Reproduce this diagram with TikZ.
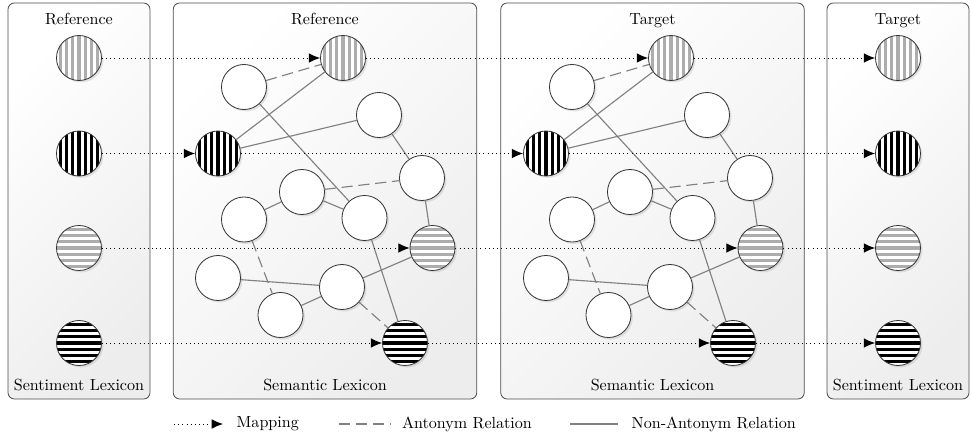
\documentclass[tikz,border=0pt]{standalone}
\usepackage{tikz}
\usetikzlibrary{positioning, arrows.meta, shadows}

\begin{document}
\begin{tikzpicture}[
    x=0.2186cm, y=0.2186cm,
    panel/.style={draw=black!70, line width=0.5pt, rounded corners=4pt, top color=white, bottom color=black!7, shading angle=45, inner sep=0pt, minimum height=8.657cm},
    narrow/.style={panel, minimum width=3.104cm},
    wide/.style={panel, minimum width=6.635cm},
    word/.style={circle, draw=black!80, line width=0.5pt, minimum size=28pt, inner sep=0pt, fill=white, drop shadow={shadow xshift=1.2pt, shadow yshift=-1.2pt, opacity=0.2}},
    vstripes/.style={word, path picture={
        \foreach \k in {-4,...,4}
            \fill[#1] ([xshift=\k*3.9pt-1pt]path picture bounding box.south) rectangle ([xshift=\k*3.9pt+1pt]path picture bounding box.north);}},
    hstripes/.style={word, path picture={
        \foreach \k in {-4,...,4}
            \fill[#1] ([yshift=\k*3.9pt-1pt]path picture bounding box.west) rectangle ([yshift=\k*3.9pt+1pt]path picture bounding box.east);}},
    vgray/.style={vstripes=black!32},
    vblack/.style={vstripes=black},
    hgray/.style={hstripes=black!32},
    hblack/.style={hstripes=black},
    map/.style={dotted, line width=0.6pt, -{Latex[length=7pt, width=6pt]}},
    syn/.style={draw=black!50, line width=0.7pt},
    ant/.style={syn, dash pattern=on 7pt off 3.5pt},
    boxtitle/.style={font=\normalsize, anchor=base}
]
    \useasboundingbox (0,0) rectangle (97.1,43.7);

    % Panels
    \node[narrow] (refbox) at (7.9,23.6) {};
    \node[wide] (rsem) at (32.5,23.6) {};
    \node[wide] (tsem) at (65.25,23.6) {};
    \node[narrow] (tgtbox) at (89.8,23.6) {};

    \node[boxtitle] (refhead) at (7.9,41.3) {Reference};
    \node[boxtitle] (rsemhead) at (32.5,41.3) {Reference};
    \node[boxtitle] (tsemhead) at (65.25,41.3) {Target};
    \node[boxtitle] (tgthead) at (89.8,41.3) {Target};
    \node[boxtitle] (reffoot) at (7.9,4.7) {Sentiment Lexicon};
    \node[boxtitle] (rsemfoot) at (32.5,4.7) {Semantic Lexicon};
    \node[boxtitle] (tsemfoot) at (65.25,4.7) {Semantic Lexicon};
    \node[boxtitle] (tgtfoot) at (89.8,4.7) {Sentiment Lexicon};

    % Sentiment lexicons
    \foreach \s/\x in {ref/7.9, tgt/89.8} {
        \node[vgray] (\s1) at (\x,37.9) {};
        \node[vblack] (\s2) at (\x,28.35) {};
        \node[hgray] (\s3) at (\x,18.9) {};
        \node[hblack] (\s4) at (\x,9.4) {};
    }

    % Semantic lexicons (target is a shifted copy)
    \foreach \p/\dx in {r/0, t/32.8} {
        \node[vgray] (\p1) at (\dx+34.3,37.9) {};
        \node[vblack] (\p2) at (\dx+21.8,28.35) {};
        \node[hgray] (\p3) at (\dx+43.25,18.9) {};
        \node[hblack] (\p4) at (\dx+40.5,9.4) {};

        \foreach \w/\x/\y in {1/24.4/35.0, 2/37.9/32.2, 3/42.2/25.9, 4/30.2/24.5, 5/24.4/21.75,
                              6/36.45/21.9, 7/21.8/15.9, 8/34.2/15.0, 9/28.05/12.2} {
            \node[word] (\p w\w) at (\dx+\x,\y) {};
        }

        % antonym relations
        \foreach \a/\b in {w1/1, w4/w3, w5/w9, w8/4}
            \draw[ant] (\p\a) -- (\p\b);
        % non-antonym relations
        \foreach \a/\b in {2/1, 2/w2, w1/w6, w2/w3, w4/w5, w4/w6, w3/3, w6/4, w7/w8, w9/w8, w8/3}
            \draw[syn] (\p\a) -- (\p\b);
    }

    % Mappings
    \foreach \i in {1,...,4} {
        \draw[map] (ref\i) -- (r\i);
        \draw[map] (r\i) -- (t\i);
        \draw[map] (t\i) -- (tgt\i);
    }

    % Legend
    \coordinate (mapA) at (17.4,1.3);
    \coordinate (mapB) at (22.3,1.3);
    \coordinate (antA) at (33.9,1.3);
    \coordinate (antB) at (39.0,1.3);
    \coordinate (synA) at (57.0,1.3);
    \coordinate (synB) at (61.8,1.3);
    \draw[map] (mapA) -- (mapB);
    \draw[ant] (antA) -- (antB);
    \draw[syn] (synA) -- (synB);
    \node[right=5pt of mapB] (mapleg) {Mapping};
    \node[right=4pt of antB] (antleg) {Antonym Relation};
    \node[right=5pt of synB] (synleg) {Non-Antonym Relation};

\end{tikzpicture}
\end{document}
